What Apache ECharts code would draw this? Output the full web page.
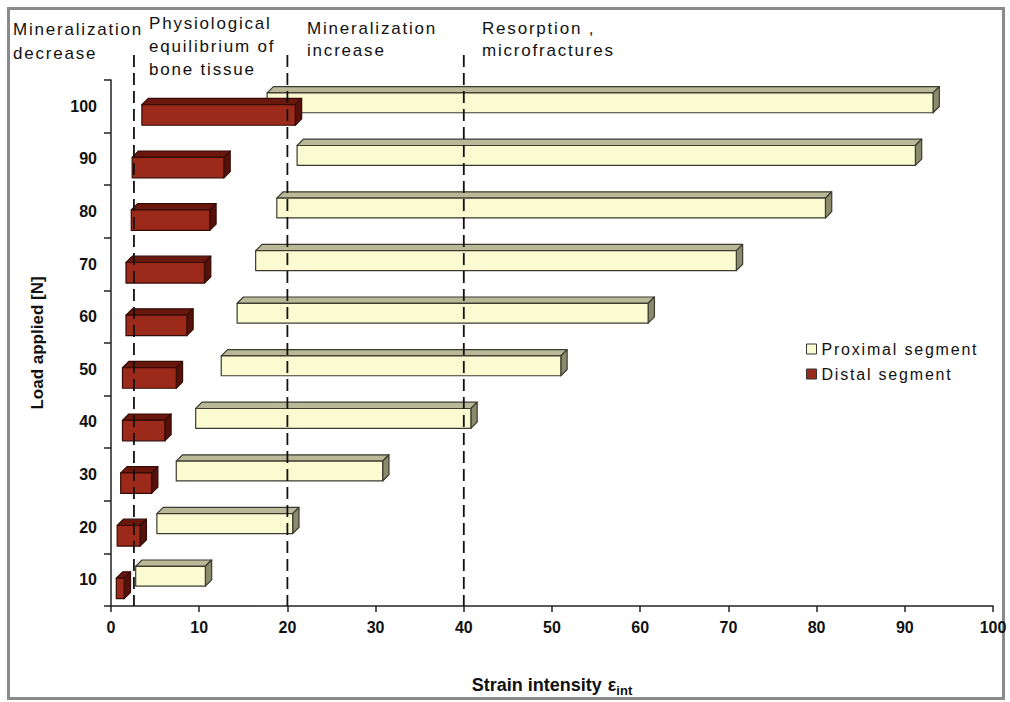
<!DOCTYPE html>
<html>
<head>
<meta charset="utf-8">
<script src="https://cdn.jsdelivr.net/npm/echarts@6/dist/echarts.min.js"></script>
<style>
  html, body { margin: 0; padding: 0; background: #ffffff; }
  #chart { width: 1010px; height: 702px; }
</style>
</head>
<body>
<div id="chart"></div>
<script>
// Applied load levels (category axis, bottom to top)
const loadLevels = ['10', '20', '30', '40', '50', '60', '70', '80', '90', '100'];

// Strain intensity range for the proximal segment at each load
const proximalStart = [2.8, 5.2, 7.4, 9.6, 12.5, 14.3, 16.4, 18.8, 21.1, 17.7];
const proximalEnd   = [10.7, 20.6, 30.8, 40.8, 51.0, 60.9, 70.9, 81.0, 91.2, 93.2];

// Strain intensity range for the distal segment at each load
const distalStart = [0.6, 0.7, 1.1, 1.3, 1.3, 1.7, 1.7, 2.3, 2.4, 3.5];
const distalEnd   = [1.5, 3.3, 4.6, 6.1, 7.4, 8.6, 10.6, 11.2, 12.8, 20.9];

// Boundaries between bone-remodelling zones
const zoneLimits = [2.6, 20, 40];

// X axis ticks
const strainMin = 0, strainMax = 100, strainStep = 10;

const seriesNames = ['Proximal segment', 'Distal segment'];

const palette = {
  proximal: { face: '#fbfbd1', top: '#b9b998', side: '#8a8a6c', edge: '#3b3b30' },
  distal:   { face: '#9c2a1b', top: '#6a170e', side: '#56120a', edge: '#360b06' }
};

function rangeData(starts, ends) {
  return loadLevels.map((_, i) => [i, starts[i], ends[i]]);
}

// Draws a floating bar as a small 3-D box (front face, top face, right side)
function boxRenderer(colors, topFrac, bottomFrac) {
  return function (params, api) {
    const cat = api.value(0);
    const a = api.coord([api.value(1), cat]);
    const b = api.coord([api.value(2), cat]);
    const band = api.size([0, 1])[1];
    const d = band * 0.12;
    const y0 = a[1] + band * topFrac;
    const y1 = a[1] + band * bottomFrac;
    const x0 = a[0], x1 = b[0];
    const edge = { stroke: colors.edge, lineWidth: 1.2, lineJoin: 'round' };
    return {
      type: 'group',
      children: [
        {
          type: 'polygon',
          shape: { points: [[x0, y0], [x0 + d, y0 - d], [x1 + d, y0 - d], [x1, y0]] },
          style: Object.assign({ fill: colors.top }, edge)
        },
        {
          type: 'polygon',
          shape: { points: [[x1, y0], [x1 + d, y0 - d], [x1 + d, y1 - d], [x1, y1]] },
          style: Object.assign({ fill: colors.side }, edge)
        },
        {
          type: 'rect',
          shape: { x: x0, y: y0, width: x1 - x0, height: y1 - y0 },
          style: Object.assign({ fill: colors.face }, edge)
        }
      ]
    };
  };
}

// Vertical dashed zone boundaries, running from above the plot down to the axis
function limitRenderer(params, api) {
  const p = api.coord([api.value(0), 0]);
  const cs = params.coordSys;
  return {
    type: 'line',
    shape: { x1: p[0], y1: cs.y - 25, x2: p[0], y2: cs.y + cs.height },
    style: { stroke: '#111', lineWidth: 1.8, lineDash: [12, 6] }
  };
}

const chart = echarts.init(document.getElementById('chart'), null, { renderer: 'svg' });

const labelFont = 'Liberation Sans, Arial, sans-serif';

const option = {
  animation: false,
  backgroundColor: '#ffffff',
  grid: { left: 111, right: 17, top: 80, bottom: 92, containLabel: false },
  xAxis: {
    type: 'value',
    min: strainMin,
    max: strainMax,
    interval: strainStep,
    splitLine: { show: false },
    axisLine: { show: true, lineStyle: { color: '#222', width: 1.5 } },
    axisTick: { show: true, inside: false, length: 6, lineStyle: { color: '#222', width: 1.5 } },
    axisLabel: { margin: 13, fontFamily: labelFont, fontWeight: 'bold', fontSize: 16, color: '#111' },
    name: '{t|Strain intensity}{e|ε}{s|int}',
    nameLocation: 'middle',
    nameGap: 67,
    nameTextStyle: {
      rich: {
        t: { fontFamily: labelFont, fontWeight: 'bold', fontSize: 18, color: '#111', lineHeight: 24, verticalAlign: 'middle' },
        e: { fontFamily: labelFont, fontWeight: 'bold', fontSize: 18, color: '#111', lineHeight: 24, verticalAlign: 'middle', padding: [0, 0, 0, 6] },
        s: { fontFamily: labelFont, fontWeight: 'bold', fontSize: 13, color: '#111', lineHeight: 24, verticalAlign: 'bottom' }
      }
    }
  },
  yAxis: {
    type: 'category',
    data: loadLevels,
    boundaryGap: true,
    splitLine: { show: false },
    axisLine: { show: true, lineStyle: { color: '#222', width: 1.5 } },
    axisTick: { show: true, inside: false, length: 7, alignWithLabel: false, lineStyle: { color: '#222', width: 1.5 } },
    axisLabel: { margin: 14, fontFamily: labelFont, fontWeight: 'bold', fontSize: 16, color: '#111' },
    name: 'Load applied [N]',
    nameLocation: 'middle',
    nameRotate: 90,
    nameGap: 65,
    nameTextStyle: { fontFamily: labelFont, fontWeight: 'bold', fontSize: 17, color: '#111' }
  },
  legend: {
    orient: 'vertical',
    left: 801,
    top: 336,
    itemGap: 9,
    itemWidth: 10,
    itemHeight: 10,
    icon: 'rect',
    textStyle: { fontFamily: labelFont, fontSize: 16, color: '#111' },
    data: [
      { name: seriesNames[0], itemStyle: { color: palette.proximal.face, borderColor: '#333', borderWidth: 1 } },
      { name: seriesNames[1], itemStyle: { color: palette.distal.face, borderColor: '#333', borderWidth: 1 } }
    ]
  },
  graphic: [
    {
      type: 'rect',
      shape: { x: 8.5, y: 8.5, width: 995, height: 690 },
      style: { fill: 'none', stroke: '#8a8a8a', lineWidth: 3 },
      silent: true
    },
    {
      type: 'text', left: 13, top: 17,
      style: { text: 'Mineralization\ndecrease', font: '17px ' + labelFont, fill: '#111', lineHeight: 24 }
    },
    {
      type: 'text', left: 149, top: 12,
      style: { text: 'Physiological\nequilibrium of\nbone tissue', font: '17px ' + labelFont, fill: '#111', lineHeight: 23 }
    },
    {
      type: 'text', left: 307, top: 17,
      style: { text: 'Mineralization\nincrease', font: '17px ' + labelFont, fill: '#111', lineHeight: 22 }
    },
    {
      type: 'text', left: 482, top: 17,
      style: { text: 'Resorption ,\nmicrofractures', font: '17px ' + labelFont, fill: '#111', lineHeight: 22 }
    }
  ],
  series: [
    {
      name: seriesNames[0],
      type: 'custom',
      renderItem: boxRenderer(palette.proximal, -0.255, 0.123),
      encode: { x: [1, 2], y: 0 },
      itemStyle: { color: palette.proximal.face },
      data: rangeData(proximalStart, proximalEnd),
      z: 2
    },
    {
      name: seriesNames[1],
      type: 'custom',
      renderItem: boxRenderer(palette.distal, -0.03, 0.36),
      encode: { x: [1, 2], y: 0 },
      itemStyle: { color: palette.distal.face },
      data: rangeData(distalStart, distalEnd),
      z: 3
    },
    {
      name: 'zones',
      type: 'custom',
      renderItem: limitRenderer,
      encode: { x: 0 },
      data: zoneLimits.map(v => [v]),
      silent: true,
      z: 4
    }
  ]
};

chart.setOption(option);

// Slightly open letter spacing for the plain-weight annotations and legend
function spaceText() {
  document.querySelectorAll('#chart svg text').forEach(t => {
    const w = getComputedStyle(t).fontWeight;
    const bold = w === 'bold' || parseInt(w, 10) >= 600;
    t.style.letterSpacing = bold ? '0px' : '1.8px';
  });
}
chart.on('finished', spaceText);
spaceText();
</script>
</body>
</html>
